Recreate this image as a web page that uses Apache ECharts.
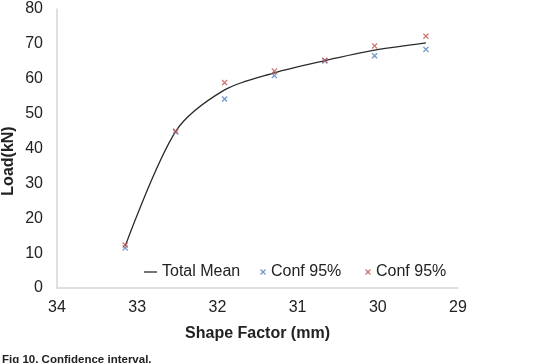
<!DOCTYPE html>
<html>
<head>
<meta charset="utf-8">
<script src="https://cdn.jsdelivr.net/npm/echarts@6/dist/echarts.min.js"></script>
<style>
  html, body { margin: 0; padding: 0; background: #fff; }
  #chart { width: 552px; height: 363px; }
</style>
</head>
<body>
<div id="chart"></div>
<script>
// values
const shapeFactor = [33.15, 32.52, 31.91, 31.29, 30.66, 30.04, 29.40]
const meanLoad = [12.0, 44.9, 56.8, 61.7, 65.2, 68.2, 70.3]
const confLow = [11.5, 44.7, 54.2, 60.9, 65.1, 66.6, 68.4]
const confHigh = [12.3, 45.0, 58.9, 62.2, 65.3, 69.4, 72.2]

const font = 'Liberation Sans, Arial, sans-serif'
const crossMark = 'path://M0,1.5L1.5,0L5,3.5L8.5,0L10,1.5L6.5,5L10,8.5L8.5,10L5,6.5L1.5,10L0,8.5L3.5,5Z'
const dashIcon = 'path://M0,0L20,0L20,2L0,2Z'

const pairs = (xs, ys) => xs.map((x, i) => [x, ys[i]])

const chart = echarts.init(document.getElementById('chart'))

const legendText = { fontSize: 16, color: '#222', fontFamily: font }

chart.setOption({
  animation: false,
  textStyle: { fontFamily: font },
  grid: { left: 57, right: 94, top: 9, bottom: 75 },
  xAxis: {
    type: 'value',
    min: 29,
    max: 34,
    interval: 1,
    inverse: true,
    name: 'Shape Factor (mm)',
    nameLocation: 'middle',
    nameGap: 38,
    nameTextStyle: { fontSize: 16, fontWeight: 'bold', color: '#222', fontFamily: font },
    axisLine: { lineStyle: { color: '#d6d6d6', width: 1.5 } },
    axisTick: { show: false },
    splitLine: { show: false },
    axisLabel: { fontSize: 16, color: '#222', margin: 12, fontFamily: font }
  },
  yAxis: {
    type: 'value',
    min: 0,
    max: 80,
    interval: 10,
    axisLine: { show: true, lineStyle: { color: '#d6d6d6', width: 1.5 } },
    axisTick: { show: false },
    splitLine: { show: false },
    axisLabel: { fontSize: 16, color: '#222', margin: 14, fontFamily: font }
  },
  legend: [
    {
      left: 144, top: 264, padding: 0,
      itemWidth: 13, itemHeight: 1.4,
      data: [{ name: 'Total Mean', icon: dashIcon }],
      textStyle: legendText
    },
    {
      left: 260, top: 264, padding: 0,
      itemWidth: 6, itemHeight: 6,
      data: ['Conf 95% low'],
      formatter: () => 'Conf 95%',
      textStyle: legendText
    },
    {
      left: 365, top: 264, padding: 0,
      itemWidth: 6, itemHeight: 6,
      data: ['Conf 95% high'],
      formatter: () => 'Conf 95%',
      textStyle: legendText
    }
  ],
  graphic: [
    {
      type: 'text',
      x: 9, y: 161,
      rotation: Math.PI / 2,
      style: {
        text: 'Load(kN)',
        font: 'bold 16px ' + font,
        fill: '#222',
        align: 'center',
        verticalAlign: 'middle'
      }
    },
    {
      type: 'text',
      left: 2, top: 354,
      style: {
        text: 'Fig 10. Confidence interval.',
        font: 'bold 11.5px ' + font,
        fill: '#222'
      }
    }
  ],
  series: [
    {
      name: 'Total Mean',
      type: 'line',
      smooth: 0.3,
      symbol: 'none',
      data: pairs(shapeFactor, meanLoad),
      lineStyle: { color: '#2b2b2b', width: 1.3 },
      itemStyle: { color: '#2b2b2b' },
      z: 2
    },
    {
      name: 'Conf 95% low',
      type: 'scatter',
      symbol: crossMark,
      symbolSize: 6,
      data: pairs(shapeFactor, confLow),
      itemStyle: { color: '#4f81bd' },
      z: 3
    },
    {
      name: 'Conf 95% high',
      type: 'scatter',
      symbol: crossMark,
      symbolSize: 6,
      data: pairs(shapeFactor, confHigh),
      itemStyle: { color: '#c0504d' },
      z: 4
    }
  ]
})
</script>
</body>
</html>
